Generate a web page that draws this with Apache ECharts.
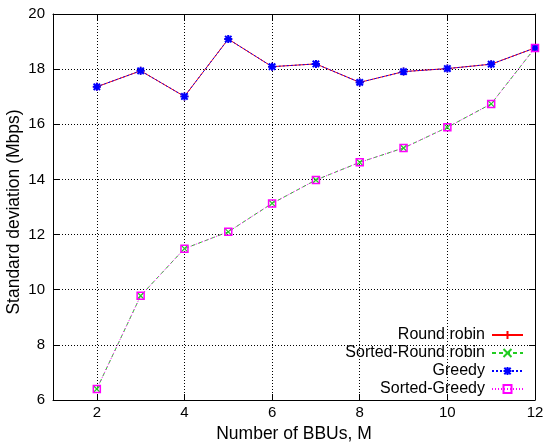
<!DOCTYPE html>
<html>
<head>
<meta charset="utf-8">
<script src="https://cdn.jsdelivr.net/npm/echarts@6/dist/echarts.min.js"></script>
<style>html,body{margin:0;padding:0;background:#fff;}#c{width:543px;height:442px;}</style>
</head>
<body>
<div id="c"></div>
<script>
var xValues = [2, 3, 4, 5, 6, 7, 8, 9, 10, 11, 12];
var roundRobin = [17.36, 17.94, 17.01, 19.09, 18.09, 18.19, 17.52, 17.91, 18.02, 18.18, 18.77];
var sortedRoundRobin = [6.40, 9.78, 11.49, 12.10, 13.13, 13.98, 14.62, 15.14, 15.89, 16.74, 18.77];
var greedy = [17.36, 17.94, 17.01, 19.09, 18.09, 18.19, 17.52, 17.91, 18.02, 18.18, 18.77];
var sortedGreedy = [6.40, 9.78, 11.49, 12.10, 13.13, 13.98, 14.62, 15.14, 15.89, 16.74, 18.77];
var seriesNames = ['Round robin', 'Sorted-Round robin', 'Greedy', 'Sorted-Greedy'];
var xTicks = [2, 4, 6, 8, 10, 12];
var xGridLines = [2, 4, 6, 8, 10];
var yTitle = 'Standard deviation (Mbps)';
var xTitle = 'Number of BBUs, M';

function pairs(arr) { return xValues.map(function (x, i) { return [x, arr[i]]; }); }

var FONT = 'Liberation Sans';
var plusPath = 'path://M0,5L10,5M5,0L5,10';
var crossPath = 'path://M0,0L10,10M10,0L0,10';
var starPath = 'path://M0,5L10,5M5,0L5,10M1,1L9,9M9,1L1,9';

var chart = echarts.init(document.getElementById('c'), null, {renderer: 'canvas'});
chart.setOption({
  animation: false,
  backgroundColor: '#fff',
  grid: {left: 53, right: 8, top: 14, bottom: 42, containLabel: false, outerBoundsMode: 'none'},
  graphic: [{
    type: 'text', x: 14, y: 212, rotation: Math.PI / 2,
    style: {text: yTitle, font: '17.5px "Liberation Sans"', fill: '#000', align: 'center', verticalAlign: 'middle'}
  }],
  legend: {
    orient: 'vertical', right: 14, top: 322, align: 'right',
    itemWidth: 31, itemHeight: 10, itemGap: 2,
    textStyle: {fontFamily: FONT, fontSize: 16, color: '#000', lineHeight: 15, padding: [0, 2, 0, 0]},
    data: seriesNames
  },
  xAxis: [{
    type: 'value', min: 1, max: 12, interval: 1,
    name: xTitle, nameLocation: 'middle', nameGap: 21,
    nameTextStyle: {fontFamily: FONT, fontSize: 17.5, color: '#000'},
    axisLine: {lineStyle: {color: '#000', width: 1}},
    axisTick: {inside: true, length: 6, customValues: xTicks, lineStyle: {color: '#000'}},
    axisLabel: {customValues: xTicks, fontFamily: FONT, fontSize: 15, color: '#000', margin: 5},
    splitLine: {show: true, customValues: xGridLines, lineStyle: {color: '#000', type: [1, 2], width: 1}}
  }, {
    type: 'value', min: 1, max: 12, interval: 1, position: 'top',
    axisLine: {show: true, lineStyle: {color: '#000'}},
    axisTick: {inside: true, length: 6, customValues: xTicks, lineStyle: {color: '#000'}},
    axisLabel: {show: false}, splitLine: {show: false}
  }],
  yAxis: [{
    type: 'value', min: 6, max: 20, interval: 2,
    axisLine: {show: true, lineStyle: {color: '#000', width: 1}},
    axisTick: {show: true, inside: true, length: 6, lineStyle: {color: '#000'}},
    axisLabel: {fontFamily: FONT, fontSize: 15, color: '#000', margin: 8},
    splitLine: {show: true, lineStyle: {color: '#000', type: [1, 2], width: 1}}
  }, {
    type: 'value', min: 6, max: 20, interval: 2, position: 'right',
    axisLine: {show: true, lineStyle: {color: '#000'}},
    axisTick: {show: true, inside: true, length: 6, lineStyle: {color: '#000'}},
    axisLabel: {show: false}, splitLine: {show: false}
  }],
  series: [{
    name: seriesNames[0], type: 'line', data: pairs(roundRobin),
    symbol: plusPath, symbolSize: 8,
    itemStyle: {color: 'transparent', borderColor: '#ff0000', borderWidth: 1.2},
    lineStyle: {color: '#ff0000', width: 1, type: 'solid'}, color: '#ff0000'
  }, {
    name: seriesNames[1], type: 'line', data: pairs(sortedRoundRobin),
    symbol: crossPath, symbolSize: 6,
    itemStyle: {color: 'transparent', borderColor: '#22cc22', borderWidth: 1.2},
    lineStyle: {color: '#22cc22', width: 1, type: [4, 3]}, color: '#22cc22'
  }, {
    name: seriesNames[2], type: 'line', data: pairs(greedy),
    symbol: starPath, symbolSize: 8,
    itemStyle: {color: 'transparent', borderColor: '#0000ff', borderWidth: 2},
    lineStyle: {color: '#0000ff', width: 1, type: [2, 2]}, color: '#0000ff'
  }, {
    name: seriesNames[3], type: 'line', data: pairs(sortedGreedy),
    symbol: 'rect', symbolSize: 7,
    itemStyle: {color: 'transparent', borderColor: '#ff00ff', borderWidth: 1.5},
    lineStyle: {color: '#ff00ff', width: 1, type: [1, 2]}, color: '#ff00ff'
  }]
});
</script>
</body>
</html>
